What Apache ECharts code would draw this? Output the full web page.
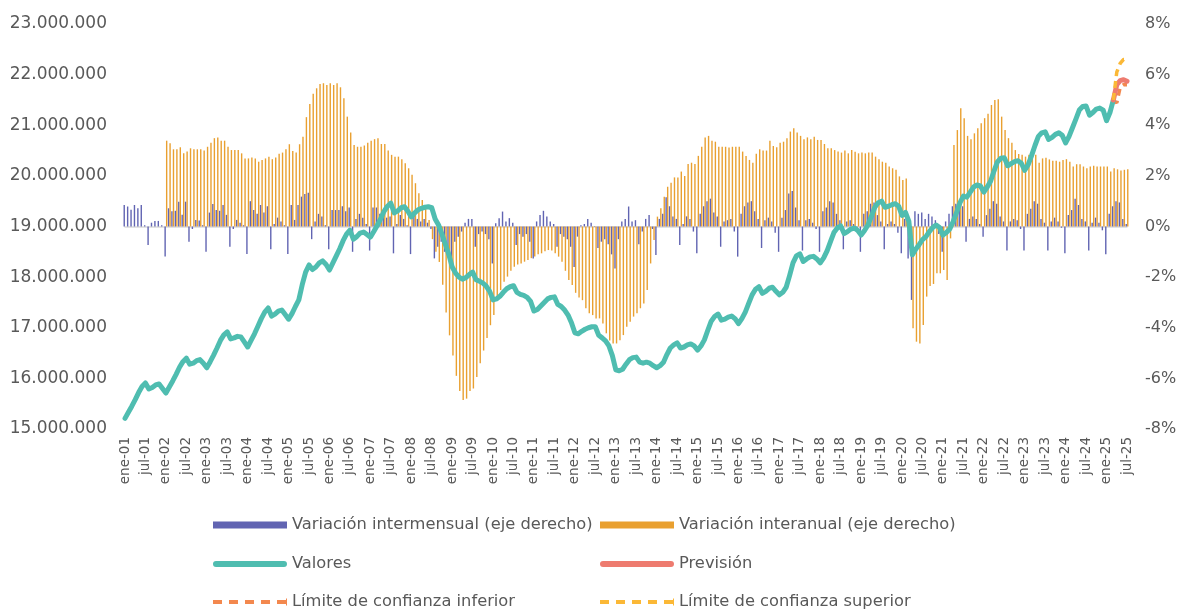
<!DOCTYPE html>
<html>
<head>
<meta charset="utf-8">
<script src="https://cdn.jsdelivr.net/npm/echarts@6/dist/echarts.min.js"></script>
<style>
  html, body { margin: 0; padding: 0; background: #fff; }
  #chart { width: 1181px; height: 612px; }
</style>
</head>
<body>
<div id="chart"></div>
<script>
var meses = ['ene', 'feb', 'mar', 'abr', 'may', 'jun', 'jul', 'ago', 'sep', 'oct', 'nov', 'dic'];
var primerAnio = 2001;
var ultimoMes = 'jul-25';

// Valores (millones), ene-01 .. mar-25
var valores = [
    15.21, 15.33, 15.45, 15.58, 15.72, 15.84, 15.91, 15.79, 15.82, 15.87, 15.89, 15.80,
    15.71, 15.83, 15.95, 16.08, 16.22, 16.33, 16.40, 16.28, 16.30, 16.35, 16.37, 16.30,
    16.21, 16.33, 16.46, 16.60, 16.75, 16.86, 16.92, 16.78, 16.80, 16.83, 16.82, 16.72,
    16.62, 16.75, 16.88, 17.03, 17.18, 17.31, 17.39, 17.23, 17.27, 17.33, 17.35, 17.26,
    17.17, 17.28, 17.42, 17.55, 17.85, 18.10, 18.24, 18.15, 18.20, 18.28, 18.32, 18.25,
    18.14, 18.28, 18.42, 18.56, 18.72, 18.85, 18.93, 18.75, 18.80, 18.87, 18.89, 18.84,
    18.79, 18.90, 19.02, 19.15, 19.30, 19.40, 19.46, 19.27, 19.31, 19.37, 19.39, 19.30,
    19.19, 19.27, 19.33, 19.36, 19.38, 19.39, 19.37, 19.15, 19.03, 18.85, 18.65, 18.45,
    18.20, 18.08, 18.00, 17.96, 17.99, 18.05, 18.10, 17.95, 17.92, 17.88, 17.82, 17.72,
    17.55, 17.57, 17.62, 17.70, 17.77, 17.81, 17.83, 17.70, 17.66, 17.64, 17.60, 17.52,
    17.33, 17.36, 17.43, 17.50, 17.57, 17.60, 17.61, 17.46, 17.42, 17.35, 17.25, 17.10,
    16.90, 16.88, 16.93, 16.97, 17.00, 17.02, 17.02, 16.85, 16.80, 16.74, 16.64, 16.45,
    16.17, 16.15, 16.18, 16.28, 16.37, 16.41, 16.42, 16.32, 16.30, 16.32, 16.30, 16.25,
    16.21, 16.25, 16.32, 16.47, 16.60, 16.66, 16.70, 16.60, 16.62, 16.66, 16.68, 16.64,
    16.56, 16.64, 16.76, 16.95, 17.13, 17.22, 17.27, 17.15, 17.17, 17.21, 17.23, 17.18,
    17.08, 17.18, 17.31, 17.48, 17.65, 17.76, 17.81, 17.68, 17.72, 17.78, 17.80, 17.72,
    17.65, 17.70, 17.80, 18.03, 18.28, 18.42, 18.46, 18.31, 18.36, 18.40, 18.41, 18.36,
    18.28, 18.38, 18.52, 18.70, 18.88, 18.97, 19.01, 18.86, 18.90, 18.95, 18.97, 18.92,
    18.83, 18.92, 19.03, 19.20, 19.38, 19.47, 19.50, 19.38, 19.40, 19.43, 19.45, 19.40,
    19.22, 19.28, 19.10, 18.44, 18.55, 18.64, 18.74, 18.80, 18.90, 18.98, 19.03, 18.98,
    18.83, 18.88, 18.95, 19.10, 19.28, 19.47, 19.60, 19.58, 19.68, 19.78, 19.82, 19.80,
    19.68, 19.78, 19.90, 20.10, 20.28, 20.35, 20.36, 20.20, 20.24, 20.28, 20.30, 20.25,
    20.11, 20.22, 20.40, 20.60, 20.78, 20.85, 20.87, 20.72, 20.76, 20.82, 20.85, 20.80,
    20.65, 20.78, 20.95, 21.12, 21.30, 21.37, 21.38, 21.20, 21.25, 21.32, 21.34, 21.30,
    21.09, 21.25, 21.50
];

// Previsión y límites (millones), mar-25 .. jul-25
var prevision = [21.50, 21.80, 21.88, 21.90, 21.87];
var limiteInferior = [21.50, 21.44, 21.75, 21.80, 21.80];
var limiteSuperior = [21.50, 22.05, 22.22, 22.30, 22.30];

// Variación interanual (%), ene-02 .. jul-25
var interanual = [
    3.39, 3.29, 3.05, 3.05, 3.13, 2.89, 2.96, 3.09, 3.05, 3.05, 3.05, 3.00,
    3.15, 3.31, 3.49, 3.52, 3.39, 3.39, 3.15, 3.02, 3.02, 3.02, 2.89, 2.69,
    2.69, 2.73, 2.69, 2.56, 2.63, 2.69, 2.76, 2.66, 2.73, 2.87, 2.92, 3.05,
    3.25, 2.98, 2.92, 3.25, 3.55, 4.32, 4.84, 5.24, 5.46, 5.63, 5.66, 5.59,
    5.66, 5.59, 5.66, 5.50, 5.07, 4.34, 3.71, 3.22, 3.15, 3.15, 3.20, 3.31,
    3.39, 3.45, 3.49, 3.26, 3.26, 3.00, 2.83, 2.76, 2.76, 2.66, 2.50, 2.30,
    2.04, 1.71, 1.31, 1.05, 0.72, 0.26, -0.50, -1.00, -1.40, -2.30, -3.40, -4.30,
    -5.10, -5.90, -6.50, -6.85, -6.80, -6.50, -6.40, -5.95, -5.40, -4.90, -4.40, -3.90,
    -3.50, -2.84, -2.51, -2.18, -1.98, -1.75, -1.59, -1.50, -1.46, -1.39, -1.32, -1.25,
    -1.19, -1.10, -1.06, -0.98, -0.93, -0.95, -1.06, -1.19, -1.39, -1.75, -2.11, -2.31,
    -2.62, -2.80, -2.91, -3.23, -3.43, -3.50, -3.63, -3.63, -3.83, -4.22, -4.50, -4.62,
    -4.62, -4.49, -4.29, -3.96, -3.76, -3.56, -3.43, -3.23, -3.04, -2.51, -1.46, -0.53,
    0.39, 0.72, 1.18, 1.57, 1.73, 1.94, 1.94, 2.17, 2.00, 2.47, 2.52, 2.47,
    2.79, 3.15, 3.52, 3.58, 3.39, 3.35, 3.15, 3.15, 3.15, 3.12, 3.15, 3.15,
    3.15, 2.96, 2.79, 2.63, 2.52, 2.87, 3.05, 3.00, 3.00, 3.39, 3.18, 3.13,
    3.31, 3.35, 3.49, 3.75, 3.88, 3.71, 3.58, 3.45, 3.52, 3.45, 3.55, 3.42,
    3.42, 3.26, 3.09, 3.09, 3.02, 2.96, 2.92, 3.00, 2.89, 3.02, 2.95, 2.89,
    2.92, 2.89, 2.92, 2.92, 2.76, 2.66, 2.56, 2.52, 2.37, 2.30, 2.24, 1.98,
    1.84, 1.90, -0.30, -4.02, -4.55, -4.62, -3.89, -2.77, -2.35, -2.27, -1.85, -1.85,
    -1.72, -2.11, -0.47, 3.22, 3.81, 4.67, 4.28, 3.58, 3.45, 3.68, 3.88, 4.08,
    4.28, 4.45, 4.80, 5.00, 5.03, 4.34, 3.81, 3.49, 3.31, 3.02, 2.86, 2.83,
    2.76, 2.83, 2.76, 2.83, 2.52, 2.69, 2.72, 2.65, 2.60, 2.60, 2.56, 2.63,
    2.66, 2.56, 2.37, 2.46, 2.46, 2.37, 2.30, 2.37, 2.40, 2.37, 2.37, 2.37,
    2.37, 2.17, 2.30, 2.26, 2.21, 2.24, 2.26
];

// Variación intermensual (%), ene-01 .. jul-25
var intermensual = [
    0.85, 0.79, 0.66, 0.85, 0.72, 0.85, 0.05, -0.73, 0.15, 0.22, 0.22, 0.05,
    -1.19, 0.72, 0.60, 0.62, 0.98, 0.46, 0.98, -0.60, -0.10, 0.26, 0.24, 0.05,
    -1.00, 0.55, 0.89, 0.65, 0.62, 0.85, 0.46, -0.80, -0.10, 0.26, 0.15, 0.05,
    -1.09, 1.00, 0.65, 0.50, 0.85, 0.55, 0.80, -0.90, 0.10, 0.35, 0.20, 0.05,
    -1.09, 0.85, 0.26, 0.85, 1.18, 1.28, 1.33, -0.50, 0.20, 0.50, 0.40, 0.05,
    -0.90, 0.65, 0.65, 0.65, 0.80, 0.60, 0.75, -1.00, 0.30, 0.50, 0.35, 0.10,
    -0.95, 0.75, 0.75, 0.50, 0.60, 0.35, 0.40, -1.06, 0.10, 0.45, 0.30, 0.05,
    -1.09, 0.50, 0.30, 0.20, 0.30, 0.15, -0.10, -1.26, -0.80, -0.60, -1.00, -1.20,
    -1.46, -0.60, -0.40, -0.20, 0.15, 0.30, 0.30, -0.80, -0.30, -0.20, -0.30, -0.50,
    -1.46, 0.13, 0.33, 0.59, 0.20, 0.33, 0.15, -0.73, -0.30, -0.40, -0.30, -0.60,
    -1.26, 0.20, 0.45, 0.62, 0.40, 0.20, 0.10, -0.80, -0.30, -0.40, -0.50, -0.80,
    -1.60, -0.40, 0.05, 0.10, 0.30, 0.15, 0.02, -0.85, -0.60, -0.50, -0.70, -1.10,
    -1.66, -0.50, 0.20, 0.30, 0.79, 0.20, 0.25, -0.70, -0.20, 0.30, 0.45, -0.10,
    -1.13, 0.30, 0.50, 1.16, 0.80, 0.40, 0.30, -0.73, 0.10, 0.40, 0.30, -0.20,
    -1.06, 0.50, 0.80, 1.00, 1.10, 0.55, 0.40, -0.80, 0.20, 0.25, 0.30, -0.20,
    -1.19, 0.50, 0.80, 0.95, 1.00, 0.60, 0.30, -0.85, 0.25, 0.35, 0.20, -0.25,
    -1.00, 0.35, 0.65, 1.30, 1.40, 0.75, 0.25, -0.95, 0.25, 0.30, 0.15, -0.10,
    -1.00, 0.60, 0.75, 1.00, 0.95, 0.50, 0.25, -0.90, 0.20, 0.25, 0.10, -0.20,
    -1.00, 0.50, 0.60, 0.90, 0.95, 0.45, 0.20, -0.90, 0.10, 0.20, 0.10, -0.25,
    -1.06, 0.30, -1.26, -2.90, 0.60, 0.50, 0.55, 0.30, 0.50, 0.40, 0.25, -0.30,
    -1.00, 0.20, 0.50, 0.80, 0.90, 1.00, 0.80, -0.60, 0.30, 0.40, 0.30, 0.10,
    -0.40, 0.45, 0.70, 1.00, 0.90, 0.40, 0.20, -0.95, 0.20, 0.30, 0.25, -0.10,
    -0.95, 0.50, 0.70, 1.00, 0.90, 0.30, 0.15, -0.95, 0.20, 0.35, 0.20, -0.05,
    -1.06, 0.45, 0.65, 1.10, 0.85, 0.30, 0.20, -0.95, 0.15, 0.35, 0.15, -0.15,
    -1.10, 0.50, 0.80, 1.00, 0.95, 0.30, 0.10
];

// categorías ene-01 .. jul-25
var categorias = [];
for (var a = primerAnio; categorias[categorias.length - 1] !== ultimoMes; a++) {
    for (var m = 0; m < 12; m++) {
        categorias.push(meses[m] + '-' + String(a).slice(2));
        if (categorias[categorias.length - 1] === ultimoMes) break;
    }
}

function rellenar(datos, inicio) {
    var out = [];
    for (var i = 0; i < categorias.length; i++) {
        var j = i - inicio;
        out.push(j >= 0 && j < datos.length ? datos[j] : null);
    }
    return out;
}
var inicioPrevision = valores.length - 1;

var fuente = 'DejaVu Sans';
var gris = '#595959';

// iconos de leyenda (74 x 7)
var iconoBarra = 'path://M0,0H74V7H0Z';
var iconoLinea = 'path://M3.5,0.5H70.5A3,3 0 0 1 70.5,6.5H3.5A3,3 0 0 1 3.5,0.5Z';
var iconoGuion = 'path://M0,1.5H9V5.5H0Z M16,1.5H25V5.5H16Z M32,1.5H41V5.5H32Z M48,1.5H57V5.5H48Z M64,1.5H73V5.5H64Z M73,0H74V7H73Z';

function leyenda(nombre, icono, color, x, y) {
    return {
        left: x, top: y, padding: 0,
        itemWidth: 74, itemHeight: 7, itemGap: 0,
        selectedMode: false,
        textStyle: { fontFamily: fuente, fontSize: 16.3, color: gris, padding: [0, 0, 0, 0] },
        data: [{ name: nombre, icon: icono, itemStyle: { color: color, borderWidth: 0 } }]
    };
}

var myChart = echarts.init(document.getElementById('chart'));
myChart.setOption({
    animation: false,
    textStyle: { fontFamily: fuente },
    grid: { left: 125, right: 54, top: 24, bottom: 183 },
    legend: [
        leyenda('Variación intermensual (eje derecho)', iconoBarra, '#6164B2', 213, 517),
        leyenda('Variación interanual (eje derecho)', iconoBarra, '#E9A030', 600, 517),
        leyenda('Valores', iconoLinea, '#4FBDB0', 213, 556),
        leyenda('Previsión', iconoLinea, '#EE7B6F', 600, 556),
        leyenda('Límite de confianza inferior', iconoGuion, '#F3884E', 213, 594),
        leyenda('Límite de confianza superior', iconoGuion, '#FBB836', 600, 594)
    ],
    xAxis: {
        type: 'category',
        data: categorias,
        boundaryGap: false,
        axisLine: { lineStyle: { color: '#d9d9d9', width: 1.5 } },
        axisTick: { show: false },
        axisLabel: {
            interval: 5, rotate: 90, margin: 8,
            fontSize: 13.5, color: gris, fontFamily: fuente
        }
    },
    yAxis: [
        {
            type: 'value', min: 15, max: 23, interval: 1,
            splitLine: { show: false },
            axisLabel: {
                fontSize: 17, color: gris, margin: 18,
                formatter: function (v) { return v + '.000.000'; }
            }
        },
        {
            type: 'value', min: -8, max: 8, interval: 2,
            splitLine: { show: false },
            axisLabel: {
                fontSize: 16, color: gris, margin: 18,
                formatter: function (v) { return v + '%'; }
            }
        }
    ],
    series: [
        {
            name: 'Variación intermensual (eje derecho)',
            type: 'bar', yAxisIndex: 1,
            barWidth: 1.4, barGap: '10%',
            itemStyle: { color: '#6164B2' },
            data: intermensual
        },
        {
            name: 'Variación interanual (eje derecho)',
            type: 'bar', yAxisIndex: 1,
            barWidth: 1.4,
            itemStyle: { color: '#E9A030' },
            data: rellenar(interanual, 12)
        },
        {
            name: 'Valores',
            type: 'line', yAxisIndex: 0,
            symbol: 'none',
            lineStyle: { color: '#4FBDB0', width: 5, cap: 'round', join: 'round' },
            itemStyle: { color: '#4FBDB0' },
            data: rellenar(valores, 0),
            z: 3
        },
        {
            name: 'Previsión',
            type: 'line', yAxisIndex: 0,
            symbol: 'none',
            lineStyle: { color: '#EE7B6F', width: 5, cap: 'round', join: 'round' },
            itemStyle: { color: '#EE7B6F' },
            data: rellenar(prevision, inicioPrevision),
            z: 3
        },
        {
            name: 'Límite de confianza inferior',
            type: 'line', yAxisIndex: 0,
            symbol: 'none',
            lineStyle: { color: '#F3884E', width: 3.5, type: [7, 5] },
            itemStyle: { color: '#F3884E' },
            data: rellenar(limiteInferior, inicioPrevision),
            z: 2
        },
        {
            name: 'Límite de confianza superior',
            type: 'line', yAxisIndex: 0,
            symbol: 'none',
            lineStyle: { color: '#FBB836', width: 3.5, type: [7, 5] },
            itemStyle: { color: '#FBB836' },
            data: rellenar(limiteSuperior, inicioPrevision),
            z: 3
        }
    ]
});
</script>
</body>
</html>
